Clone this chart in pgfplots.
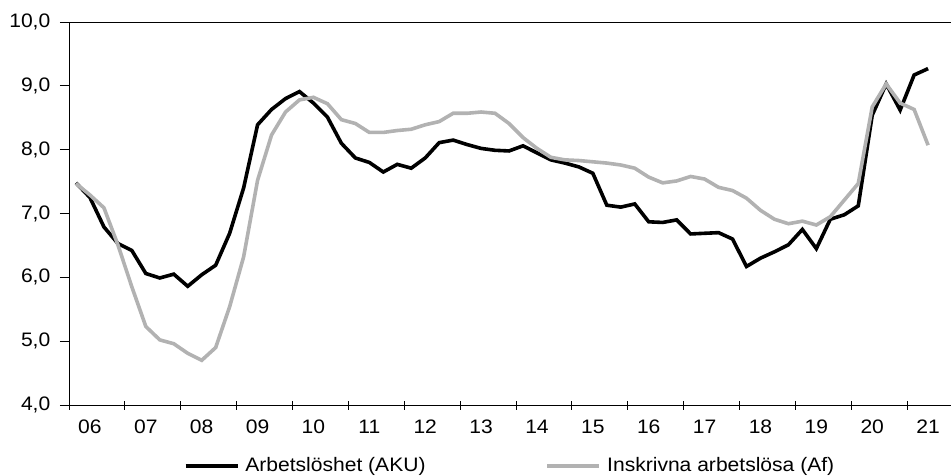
\documentclass[border=0pt]{standalone}
\usepackage{fontspec}
\setmainfont{Liberation Sans}[FakeStretch=1.08]
\usepackage{pgfplots}
\pgfplotsset{compat=1.18}
\definecolor{afgray}{RGB}{178,178,178}
\pgfplotstableread{
x aku af
0.5 7.48 7.47
1.5 7.25 7.29
2.5 6.79 7.09
3.5 6.53 6.51
4.5 6.42 5.85
5.5 6.06 5.23
6.5 5.99 5.02
7.5 6.05 4.96
8.5 5.86 4.81
9.5 6.04 4.70
10.5 6.19 4.90
11.5 6.69 5.54
12.5 7.40 6.32
13.5 8.39 7.52
14.5 8.63 8.23
15.5 8.80 8.59
16.5 8.91 8.78
17.5 8.73 8.82
18.5 8.51 8.72
19.5 8.10 8.47
20.5 7.87 8.41
21.5 7.80 8.27
22.5 7.65 8.27
23.5 7.77 8.30
24.5 7.71 8.32
25.5 7.87 8.39
26.5 8.11 8.44
27.5 8.15 8.57
28.5 8.08 8.57
29.5 8.02 8.59
30.5 7.99 8.57
31.5 7.98 8.41
32.5 8.06 8.19
33.5 7.95 8.02
34.5 7.84 7.88
35.5 7.79 7.84
36.5 7.73 7.83
37.5 7.63 7.81
38.5 7.13 7.79
39.5 7.10 7.76
40.5 7.15 7.71
41.5 6.87 7.57
42.5 6.86 7.48
43.5 6.90 7.51
44.5 6.68 7.58
45.5 6.69 7.54
46.5 6.70 7.41
47.5 6.60 7.36
48.5 6.17 7.24
49.5 6.30 7.05
50.5 6.40 6.91
51.5 6.51 6.84
52.5 6.75 6.88
53.5 6.45 6.82
54.5 6.91 6.95
55.5 6.98 7.21
56.5 7.12 7.47
57.5 8.54 8.67
58.5 9.03 9.03
59.5 8.62 8.73
60.5 9.17 8.63
61.5 9.27 8.07
}\datatable
\begin{document}
\fontsize{19.5}{23}\selectfont
\begin{tikzpicture}[x=1pt,y=1pt]
\useasboundingbox (0,0) rectangle (952,475);
\begin{axis}[
  at={(69pt,70pt)}, anchor=south west,
  scale only axis, width=882pt, height=383pt,
  xmin=0, xmax=63.14, ymin=4, ymax=10,
  axis x line*=box, axis y line*=left,
  axis line style={line width=1pt, black},
  xtick={0,4,...,60}, xticklabels={},
  extra x ticks={1.5,5.5,...,61.5},
  extra x tick labels={06,07,08,09,10,11,12,13,14,15,16,17,18,19,20,21},
  extra x tick style={major tick length=0pt, xticklabel style={yshift=-8pt}},
  xtick align=center, xtick pos=left,
  ytick={4,5,...,10}, ytick align=outside, ytick pos=left,
  major tick length=9pt,
  tick style={line width=1pt, black},
  yticklabel style={/pgf/number format/.cd, fixed, fixed zerofill, precision=1, use comma, /tikz/.cd, xshift=-3pt},
  /pgf/number format/assume math mode=true,
  tick label style={font=\fontsize{19.5}{23}\selectfont},
  legend style={at={(axis description cs:0.5,-0.16)}, anchor=center, draw=none, fill=none,
    font=\fontsize{19.5}{23}\selectfont, inner sep=0pt,
    /tikz/every even column/.append style={column sep=118pt},
    /tikz/every odd column/.append style={column sep=4pt}},
  legend columns=2,
  legend image code/.code={\draw[#1] (0pt,0pt) -- (52pt,0pt);},
]
\addplot[black, line width=3.6pt] table[x=x, y=aku] {\datatable};
\addlegendentry{Arbetslöshet (AKU)}
\addplot[afgray, line width=3.6pt] table[x=x, y=af] {\datatable};
\addlegendentry{Inskrivna arbetslösa (Af)}
\end{axis}
\end{tikzpicture}
\end{document}
